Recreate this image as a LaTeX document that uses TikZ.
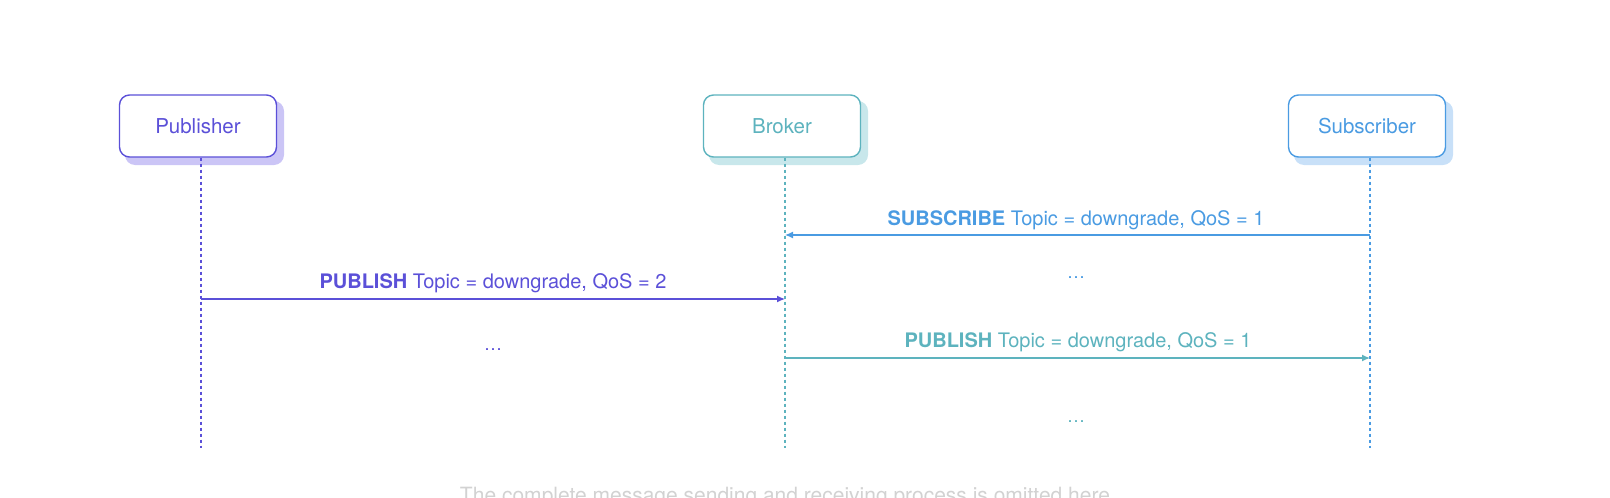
\documentclass[tikz,border=0pt]{standalone}
\usepackage{fontspec}
\setmainfont{TeX Gyre Heros}
\usetikzlibrary{arrows.meta,calc}
\definecolor{pubc}{HTML}{5B50D8}
\definecolor{pubs}{HTML}{CBC5F6}
\definecolor{brkc}{HTML}{5DB3BE}
\definecolor{brks}{HTML}{C8E7EB}
\definecolor{subc}{HTML}{4A9BE2}
\definecolor{subs}{HTML}{C8E0F8}
\definecolor{notec}{HTML}{D2D2D2}
\tikzset{
  >={Latex[length=8pt,width=7pt]},
  actor/.style={draw=#1,line width=1.4pt,rounded corners=10pt,fill=white,
    minimum width=157pt,minimum height=62pt,text=#1,font=\fontsize{20.5}{24}\selectfont},
  shade/.style={fill=#1,rounded corners=10pt},
  life/.style={draw=#1,line width=1.4pt,dash pattern=on 3pt off 3pt},
  msg/.style={draw=#1,line width=1.3pt,->},
  lbl/.style={text=#1,font=\fontsize{20}{24}\selectfont},
  dots/.style={text=#1,font=\fontsize{18}{22}\selectfont}
}
\begin{document}
\begin{tikzpicture}[x=1pt,y=-1pt]
    \useasboundingbox (0,0) rectangle (1610,498);
    % shadows behind the boxes
    \fill[shade=pubs] (125,101) rectangle (284,165);
    \fill[shade=brks] (709,101) rectangle (868,165);
    \fill[shade=subs] (1294,101) rectangle (1453,165);
    % actors
    \node[actor=pubc] (pub) at (198,126) {Publisher};
    \node[actor=brkc] (brk) at (782,126) {Broker};
    \node[actor=subc] (sub) at (1367,126) {Subscriber};
    % lifelines
    \coordinate (pubend) at (201,448);
    \coordinate (brkend) at (785,448);
    \coordinate (subend) at (1370,448);
    \draw[life=pubc] (pub.south -| pubend) -- (pubend);
    \draw[life=brkc] (brk.south -| brkend) -- (brkend);
    \draw[life=subc] (sub.south -| subend) -- (subend);
    % messages
    \coordinate (s1) at (1370,235);
    \coordinate (b1) at (785,235);
    \coordinate (p2) at (201,299);
    \coordinate (b2) at (785,299);
    \coordinate (b3) at (785,358);
    \coordinate (s3) at (1370,358);
    \draw[msg=subc] (s1) -- (b1);
    \draw[msg=pubc] (p2) -- (b2);
    \draw[msg=brkc] (b3) -- (s3);
    \node[lbl=subc] (m1) at (1076,220) {\textbf{SUBSCRIBE} Topic = downgrade, QoS = 1};
    \node[lbl=pubc] (m2) at (493,283) {\textbf{PUBLISH} Topic = downgrade, QoS = 2};
    \node[lbl=brkc] (m3) at (1078,342) {\textbf{PUBLISH} Topic = downgrade, QoS = 1};
    \node[dots=subc] (d1) at (1076,278) {\dots};
    \node[dots=pubc] (d2) at (493,350) {\dots};
    \node[dots=brkc] (d3) at (1076,422) {\dots};
    % note, cut by the frame
    \node[text=notec,font=\fontsize{21}{25}\selectfont,anchor=base] (note) at (785,502)
      {The complete message sending and receiving process is omitted here};
\end{tikzpicture}
\end{document}
